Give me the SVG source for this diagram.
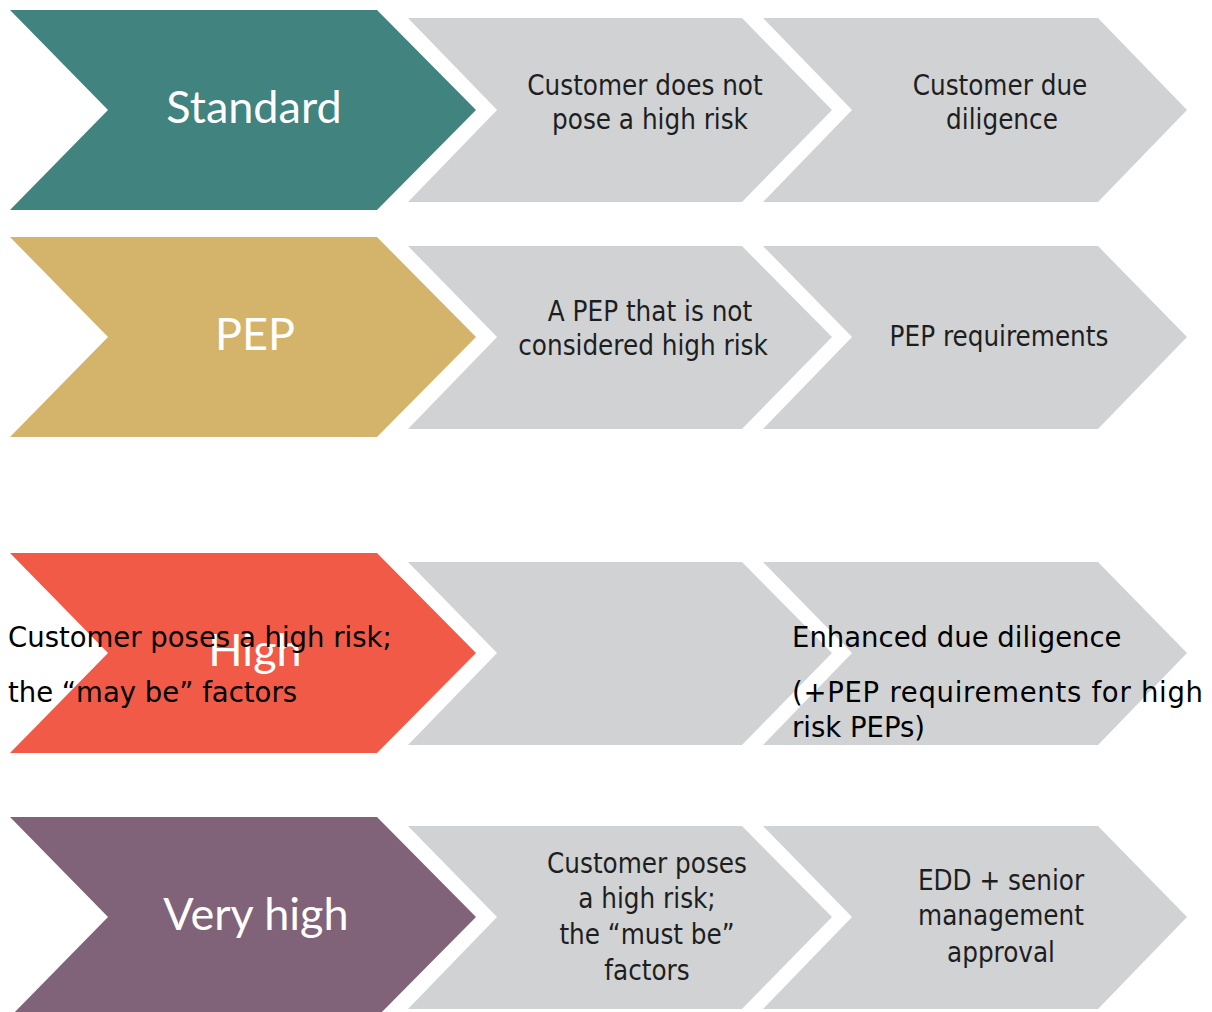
<svg xmlns="http://www.w3.org/2000/svg" width="1212" height="1012" viewBox="0 0 1212 1012">
<style>
.gray{fill:#D1D2D4}
.lbl{font-family:Lato,"Open Sans",sans-serif;font-size:45px;fill:#FFFFFF;text-anchor:middle}
.gt{font-family:"DejaVu Sans Condensed","DejaVu Sans",sans-serif;font-size:27.5px;fill:#1E1E1E;text-anchor:middle}
.bt{font-family:"DejaVu Sans",sans-serif;font-size:27.5px;fill:#000000}
</style>
<rect width="1212" height="1012" fill="#FFFFFF"/>
<g id="connectors"></g>
<!-- Row 1 -->
<g id="standard">
<polygon points="10,10 377,10 476,110 377,210 10,210 108,110" fill="#41837F"/>
<text class="lbl" x="254" y="123">Standard</text>
</g>
<g id="standard-condition">
<polygon class="gray" points="408,18 742,18 832,110 742,202 408,202 497,110"/>
<text class="gt" x="645" y="95">Customer does not</text>
<text class="gt" x="650" y="129">pose a high risk</text>
</g>
<g id="standard-measure">
<polygon class="gray" points="763,18 1098,18 1187,110 1098,202 763,202 852,110"/>
<text class="gt" x="1000" y="95">Customer due</text>
<text class="gt" x="1002" y="129">diligence</text>
</g>
<!-- Row 2 -->
<g id="pep">
<polygon points="10,237 377,237 476,337 377,437 10,437 108,337" fill="#D4B46B"/>
<text class="lbl" x="255" y="350">PEP</text>
</g>
<g id="pep-condition">
<polygon class="gray" points="408,246 742,246 832,337 742,429 408,429 497,337"/>
<text class="gt" x="650" y="321">A PEP that is not</text>
<text class="gt" x="643" y="355">considered high risk</text>
</g>
<g id="pep-measure">
<polygon class="gray" points="763,246 1098,246 1187,337 1098,429 763,429 852,337"/>
<text class="gt" x="999" y="346">PEP requirements</text>
</g>
<!-- Row 3 -->
<g id="high">
<polygon points="10,553 377,553 476,653 377,753 10,753 108,653" fill="#F05A46"/>
<text class="lbl" x="255" y="666">High</text>
</g>
<g id="high-condition">
<polygon class="gray" points="408,562 742,562 832,653 742,745 408,745 497,653"/>
</g>
<g id="high-measure">
<polygon class="gray" points="763,562 1098,562 1187,653 1098,745 763,745 852,653"/>
</g>
<g id="high-texts">
<text class="bt" x="8" y="647">Customer poses a high risk;</text>
<text class="bt" x="8" y="702">the “may be” factors</text>
<text class="bt" x="792" y="647">Enhanced due diligence</text>
<text class="bt" x="792" y="702" textLength="411">(+PEP requirements for  high</text>
<text class="bt" x="792" y="737">risk PEPs)</text>
</g>
<!-- Row 4 -->
<g id="very-high">
<polygon points="10,817 377,817 476,917 377,1017 10,1017 108,917" fill="#806378"/>
<text class="lbl" x="256" y="930">Very high</text>
</g>
<g id="very-high-condition">
<polygon class="gray" points="408,826 742,826 832,917 742,1009 408,1009 497,917"/>
<text class="gt" x="647" y="873">Customer poses</text>
<text class="gt" x="647" y="908">a high risk;</text>
<text class="gt" x="647" y="944">the “must be”</text>
<text class="gt" x="647" y="980">factors</text>
</g>
<g id="very-high-measure">
<polygon class="gray" points="763,826 1098,826 1187,917 1098,1009 763,1009 852,917"/>
<text class="gt" x="1001" y="890">EDD + senior</text>
<text class="gt" x="1001" y="925">management</text>
<text class="gt" x="1001" y="962">approval</text>
</g>
</svg>
